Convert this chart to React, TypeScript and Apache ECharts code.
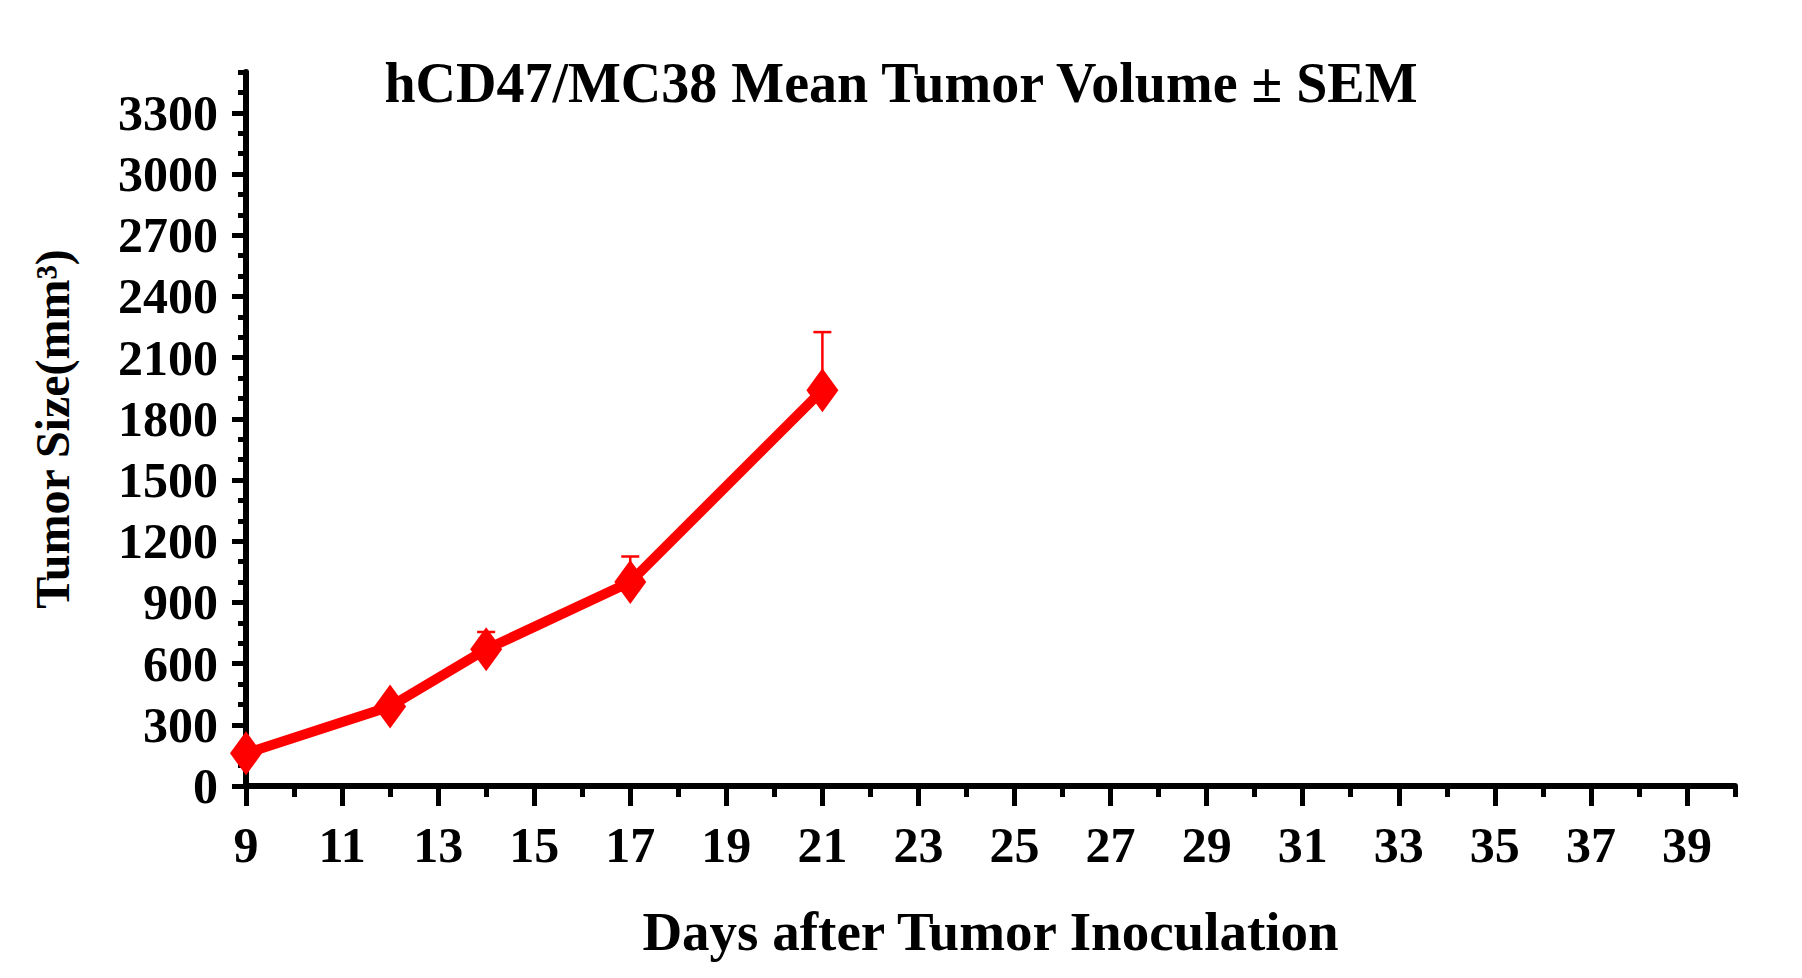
import * as echarts from "echarts";
import { useEffect, useRef } from "react";

const days = [9, 12, 14, 17, 21];
const meanVolume = [160, 390, 670, 1000, 1940];
const semUpper = [180, 410, 755, 1125, 2225];
const xMajorTicks = [9, 11, 13, 15, 17, 19, 21, 23, 25, 27, 29, 31, 33, 35, 37, 39];
const xMinorTicks = [10, 12, 14, 16, 18, 20, 22, 24, 26, 28, 30, 32, 34, 36, 38, 40];
const yMajorTicks = [0, 300, 600, 900, 1200, 1500, 1800, 2100, 2400, 2700, 3000, 3300];
const yMinorTicks = [100, 200, 400, 500, 700, 800, 1000, 1100, 1300, 1400, 1600, 1700, 1900, 2000, 2200, 2300, 2500, 2600, 2800, 2900, 3100, 3200, 3400, 3500];

const FONT = "'Liberation Serif', 'Times New Roman', serif";
const RED = "#ff0000";

export default function App() {
	const ref = useRef<HTMLDivElement>(null);
	useEffect(() => {
		if (!ref.current) return;
		const chart = echarts.init(ref.current, null, { renderer: "svg" });
		const axisLine = { show: true, onZero: false, lineStyle: { color: "#000", width: 6 } };
		chart.setOption({
			animation: false,
			backgroundColor: "#fff",
			title: {
				text: "hCD47/MC38 Mean Tumor Volume ± SEM",
				left: "center",
				top: 50,
				textStyle: { fontFamily: FONT, fontWeight: "bold", fontSize: 56, color: "#000" },
			},
			grid: { left: 246, right: 67, top: 72, bottom: 192 },
			xAxis: [
				{
					type: "value",
					min: 9,
					max: 40,
					axisLine,
					splitLine: { show: false },
					axisTick: { show: true, customValues: xMajorTicks, length: 20, lineStyle: { width: 5, color: "#000" } },
					axisLabel: {
						customValues: xMajorTicks,
						margin: 34,
						fontFamily: FONT,
						fontWeight: "bold",
						fontSize: 50,
						color: "#000",
					},
					name: "Days after Tumor Inoculation",
					nameLocation: "middle",
					nameGap: 118,
					nameTextStyle: { fontFamily: FONT, fontWeight: "bold", fontSize: 55, color: "#000" },
				},
				{
					type: "value",
					min: 9,
					max: 40,
					position: "bottom",
					axisLine: { show: false },
					splitLine: { show: false },
					axisTick: { show: true, customValues: xMinorTicks, length: 11, lineStyle: { width: 5, color: "#000" } },
					axisLabel: { show: false },
				},
			],
			yAxis: [
				{
					type: "value",
					min: 0,
					max: 3500,
					axisLine,
					splitLine: { show: false },
					axisTick: { show: true, customValues: yMajorTicks, length: 14, lineStyle: { width: 5, color: "#000" } },
					axisLabel: {
						customValues: yMajorTicks,
						formatter: (v: number) => String(v),
						margin: 28,
						fontFamily: FONT,
						fontWeight: "bold",
						fontSize: 50,
						color: "#000",
					},
					name: "Tumor Size(mm³)",
					nameLocation: "middle",
					nameGap: 170,
					nameTextStyle: { fontFamily: FONT, fontWeight: "bold", fontSize: 48, color: "#000" },
				},
				{
					type: "value",
					min: 0,
					max: 3500,
					position: "left",
					axisLine: { show: false },
					splitLine: { show: false },
					axisTick: { show: true, customValues: yMinorTicks, length: 8, lineStyle: { width: 5, color: "#000" } },
					axisLabel: { show: false },
				},
			],
			series: [
				{
					type: "custom",
					z: 1,
					data: days.map((d, i) => [d, meanVolume[i], semUpper[i]]),
					renderItem: (_params: any, api: any) => {
						const base = api.coord([api.value(0), api.value(1)]);
						const top = api.coord([api.value(0), api.value(2)]);
						return {
							type: "group",
							children: [
								{ type: "line", shape: { x1: base[0], y1: base[1], x2: top[0], y2: top[1] }, style: { stroke: RED, lineWidth: 2.5 } },
								{ type: "line", shape: { x1: top[0] - 9, y1: top[1], x2: top[0] + 9, y2: top[1] }, style: { stroke: RED, lineWidth: 2.5 } },
							],
						};
					},
				},
				{
					type: "line",
					z: 3,
					data: days.map((d, i) => [d, meanVolume[i]]),
					symbol: "diamond",
					symbolSize: [32, 44],
					lineStyle: { color: RED, width: 10 },
					itemStyle: { color: RED },
				},
			],
		});
		return () => chart.dispose();
	}, []);
	return <div ref={ref} style={{ width: 1802, height: 978, margin: -8 }} />;
}
